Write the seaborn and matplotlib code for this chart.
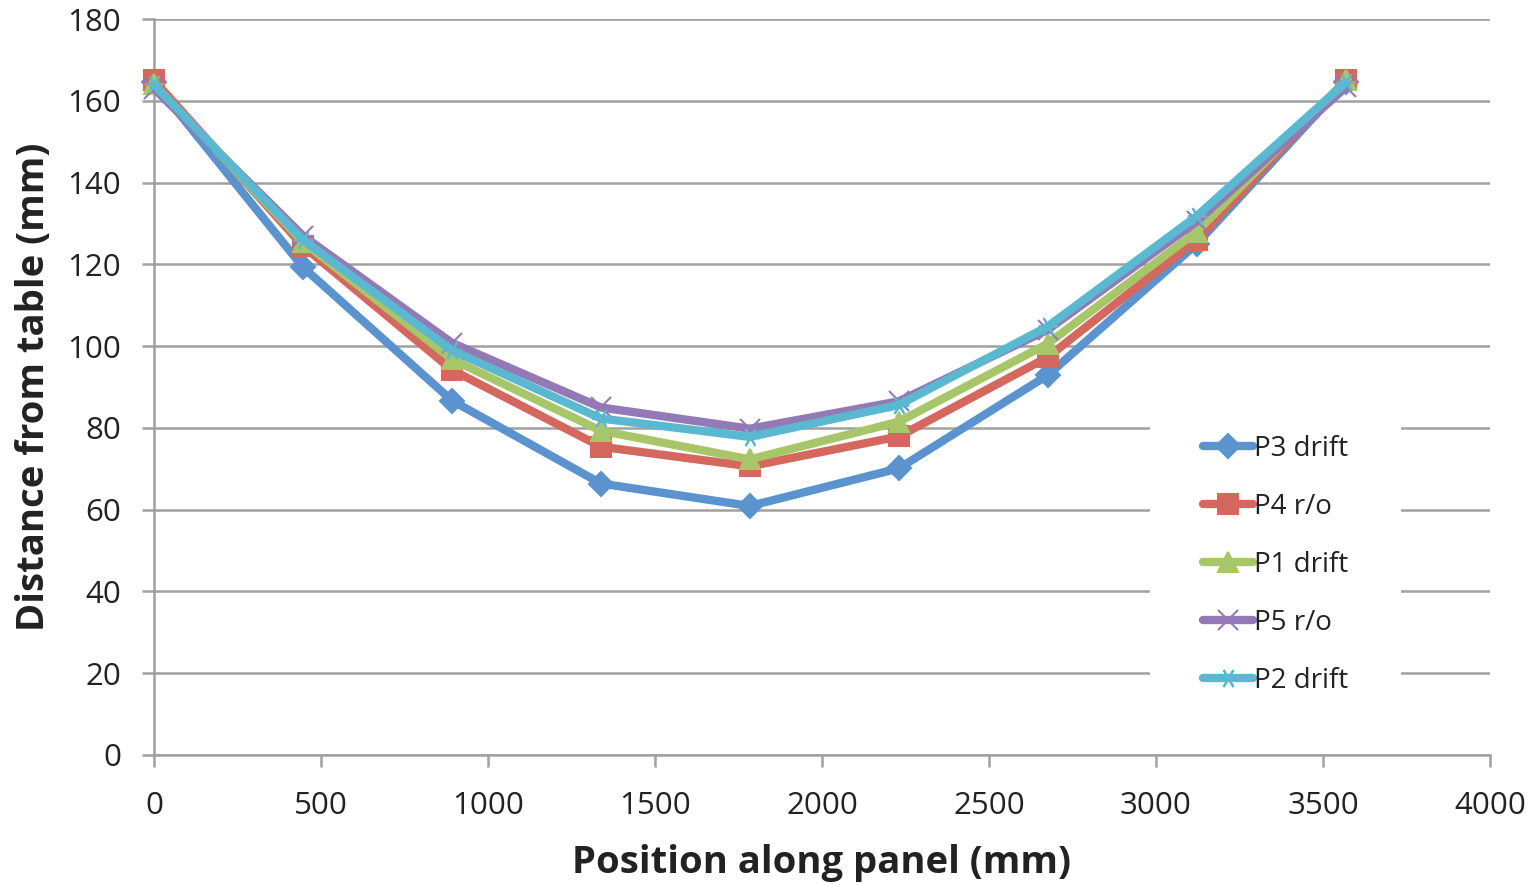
import matplotlib
matplotlib.use("Agg")
import matplotlib.pyplot as plt
import seaborn as sns
import pandas as pd

positions = [0, 446, 892, 1338, 1784, 2230, 2676, 3122, 3568]
p3_drift = [164.5, 119.3, 86.7, 66.4, 60.9, 70.1, 92.9, 125.0, 164.5]
p4_ro = [165.0, 124.5, 94.2, 75.4, 70.6, 77.9, 97.3, 126.0, 165.0]
p1_drift = [164.0, 125.5, 96.8, 79.3, 72.3, 81.5, 100.6, 128.0, 165.0]
p5_ro = [163.0, 127.0, 100.8, 85.0, 79.8, 86.5, 104.0, 130.5, 163.3]
p2_drift = [164.0, 126.0, 99.0, 82.3, 77.8, 85.6, 104.8, 131.8, 164.5]

series_names = ["P3 drift", "P4 r/o", "P1 drift", "P5 r/o", "P2 drift"]
series_values = [p3_drift, p4_ro, p1_drift, p5_ro, p2_drift]
colors = ["#5A93CE", "#D4675E", "#A7C66A", "#9379B5", "#5BB8D1"]
marker_list = ["D", "s", "^", "x", (6, 2, 90)]
marker_sizes = [12, 14, 15, 14, 14]

sns.set_theme(style="white")
plt.rcParams["font.family"] = ["Open Sans", "DejaVu Sans"]

fig = plt.figure(figsize=(15.37, 8.85), dpi=100)
ax = fig.add_axes([0.1002, 0.1469, 0.8692, 0.8316])

for name, vals, c, m, ms in zip(series_names, series_values, colors, marker_list, marker_sizes):
    d = pd.DataFrame({"pos": positions, "dist": vals})
    sns.lineplot(data=d, x="pos", y="dist", color=c, marker=m, linewidth=6,
                 markersize=ms, markeredgecolor=c, markerfacecolor=c,
                 markeredgewidth=1.5, label=name, ax=ax, zorder=3)

for line in ax.lines:
    line.set_solid_capstyle("round")
    line.set_solid_joinstyle("round")
    line.set_clip_on(False)

ax.set_xlim(0, 4000)
ax.set_ylim(0, 180)
ax.set_xticks(range(0, 4001, 500))
ax.set_yticks(range(0, 181, 20))
ax.yaxis.grid(True, color="#A0A0A0", linewidth=1.8, zorder=0)
ax.xaxis.grid(False)
for s in ["top", "right"]:
    ax.spines[s].set_visible(False)
for s in ["left", "bottom"]:
    ax.spines[s].set_color("#A0A0A0")
    ax.spines[s].set_linewidth(1.8)
ax.tick_params(axis="both", which="major", direction="out", length=8.6, width=1.8,
               color="#A0A0A0", labelsize=22.5, labelcolor="#222222",
               bottom=True, left=True)
ax.tick_params(axis="y", pad=15)
ax.tick_params(axis="x", pad=17)

ax.set_xlabel("Position along panel (mm)", fontsize=27.5, fontweight="bold",
              color="#222222", labelpad=17)
ax.set_ylabel("Distance from table (mm)", fontsize=27.5, fontweight="bold",
              color="#222222", labelpad=10)

handles, labels = ax.get_legend_handles_labels()
leg = ax.legend(handles, labels, loc="center left", bbox_to_anchor=(0.7455, 0.258),
                frameon=True, facecolor="white", edgecolor="none", framealpha=1,
                fontsize=20, handlelength=1.8, handletextpad=0.05,
                labelspacing=1.08, borderpad=1.9, borderaxespad=0, fancybox=False)
for t in leg.get_texts():
    t.set_color("#222222")
leg.set_zorder(5)

fig.savefig("out.png", dpi=100)
